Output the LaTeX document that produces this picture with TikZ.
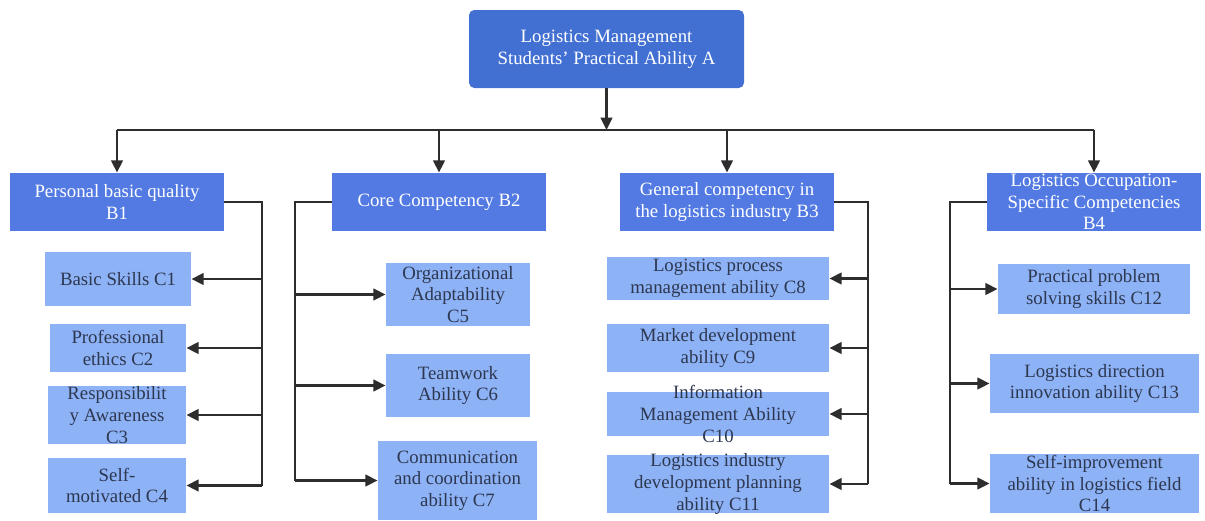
\documentclass[tikz,border=0pt]{standalone}
\usepackage{fontspec}
\setmainfont{Liberation Serif}
\usetikzlibrary{arrows.meta,fit}
\definecolor{topblue}{RGB}{66,112,210}
\definecolor{midblue}{RGB}{82,122,226}
\definecolor{lowblue}{RGB}{141,178,245}
\definecolor{lowtext}{RGB}{45,55,80}
\definecolor{linegray}{RGB}{45,45,45}
\tikzset{
  abox/.style={fill=topblue, rounded corners=3pt, inner sep=0pt},
  bbox/.style={fill=midblue, inner sep=0pt},
  cbox/.style={fill=lowblue, inner sep=0pt},
  btext/.style={text=white, align=center, font=\fontsize{10.7}{12.3}\selectfont},
  ctext/.style={text=lowtext, align=center, font=\fontsize{10.7}{12.3}\selectfont},
  link/.style={draw=linegray, line width=1.5pt},
  linkarr/.style={link, -{Triangle[length=7pt,width=6.5pt]}}
}
\begin{document}
\begin{tikzpicture}[x=0.02cm, y=-0.02cm]
\useasboundingbox (0,0) rectangle (1205,521);

\node[abox, fit={(469,10) (744,88)}] (a) {};
\node[btext] at (a) {Logistics Management\\Students' Practical Ability A};

\node[bbox, fit={(10,173) (224,231)}] (b1) {};
\node[btext] at (b1) {Personal basic quality\\B1};
\node[bbox, fit={(332,173) (546,231)}] (b2) {};
\node[btext] at (b2) {Core Competency B2};
\node[bbox, fit={(620,173) (834,231)}] (b3) {};
\node[btext] at (b3) {General competency in\\the logistics industry B3};
\node[bbox, fit={(987,173) (1201,231)}] (b4) {};
\node[btext] at (b4) {Logistics Occupation-\\Specific Competencies\\B4};

\node[cbox, fit={(45,252) (191,306)}] (c1) {};
\node[ctext] at (c1) {Basic Skills C1};
\node[cbox, fit={(50,324) (186,372)}] (c2) {};
\node[ctext] at (c2) {Professional\\ethics C2};
\node[cbox, fit={(48,386) (186,444)}] (c3) {};
\node[ctext] at (c3) {Responsibilit\\y Awareness\\C3};
\node[cbox, fit={(48,458) (186,513)}] (c4) {};
\node[ctext] at (c4) {Self-\\motivated C4};

\node[cbox, fit={(386,263) (530,326)}] (c5) {};
\node[ctext] at (c5) {Organizational\\Adaptability\\C5};
\node[cbox, fit={(386,354) (530,417)}] (c6) {};
\node[ctext] at (c6) {Teamwork\\Ability C6};
\node[cbox, fit={(378,441) (537,520)}] (c7) {};
\node[ctext] at (c7) {Communication\\and coordination\\ability C7};

\node[cbox, fit={(607,257) (829,300)}] (c8) {};
\node[ctext] at (c8) {Logistics process\\management ability C8};
\node[cbox, fit={(607,324) (829,372)}] (c9) {};
\node[ctext] at (c9) {Market development\\ability C9};
\node[cbox, fit={(607,392) (829,436)}] (c10) {};
\node[ctext] at (c10) {Information\\Management Ability\\C10};
\node[cbox, fit={(607,455) (829,513)}] (c11) {};
\node[ctext] at (c11) {Logistics industry\\development planning\\ability C11};

\node[cbox, fit={(998,264) (1190,314)}] (c12) {};
\node[ctext] at (c12) {Practical problem\\solving skills C12};
\node[cbox, fit={(990,354) (1199,413)}] (c13) {};
\node[ctext] at (c13) {Logistics direction\\innovation ability C13};
\node[cbox, fit={(990,454) (1199,513)}] (c14) {};
\node[ctext] at (c14) {Self-improvement\\ability in logistics field\\C14};

\coordinate (bus) at (0,130);
\coordinate (j1) at (262,0);
\coordinate (j2) at (295,0);
\coordinate (j3) at (868,0);
\coordinate (j4) at (950,0);

\draw[linkarr] (a.south) -- (a.south |- bus);
\draw[link] (b1.north |- bus) -- (b4.north |- bus);
\draw[linkarr] (b1.north |- bus) -- (b1.north);
\draw[linkarr] (b2.north |- bus) -- (b2.north);
\draw[linkarr] (b3.north |- bus) -- (b3.north);
\draw[linkarr] (b4.north |- bus) -- (b4.north);

\draw[link] (b1.east) -| (j1 |- c4.east);
\draw[linkarr] (j1 |- c1.east) -- (c1.east);
\draw[linkarr] (j1 |- c2.east) -- (c2.east);
\draw[linkarr] (j1 |- c3.east) -- (c3.east);
\draw[linkarr] (j1 |- c4.east) -- (c4.east);

\draw[link] (b2.west) -| (j2 |- c7.west);
\draw[linkarr] (j2 |- c5.west) -- (c5.west);
\draw[linkarr] (j2 |- c6.west) -- (c6.west);
\draw[linkarr] (j2 |- c7.west) -- (c7.west);

\draw[link] (b3.east) -| (j3 |- c11.east);
\draw[linkarr] (j3 |- c8.east) -- (c8.east);
\draw[linkarr] (j3 |- c9.east) -- (c9.east);
\draw[linkarr] (j3 |- c10.east) -- (c10.east);
\draw[linkarr] (j3 |- c11.east) -- (c11.east);

\draw[link] (b4.west) -| (j4 |- c14.west);
\draw[linkarr] (j4 |- c12.west) -- (c12.west);
\draw[linkarr] (j4 |- c13.west) -- (c13.west);
\draw[linkarr] (j4 |- c14.west) -- (c14.west);
\end{tikzpicture}
\end{document}
